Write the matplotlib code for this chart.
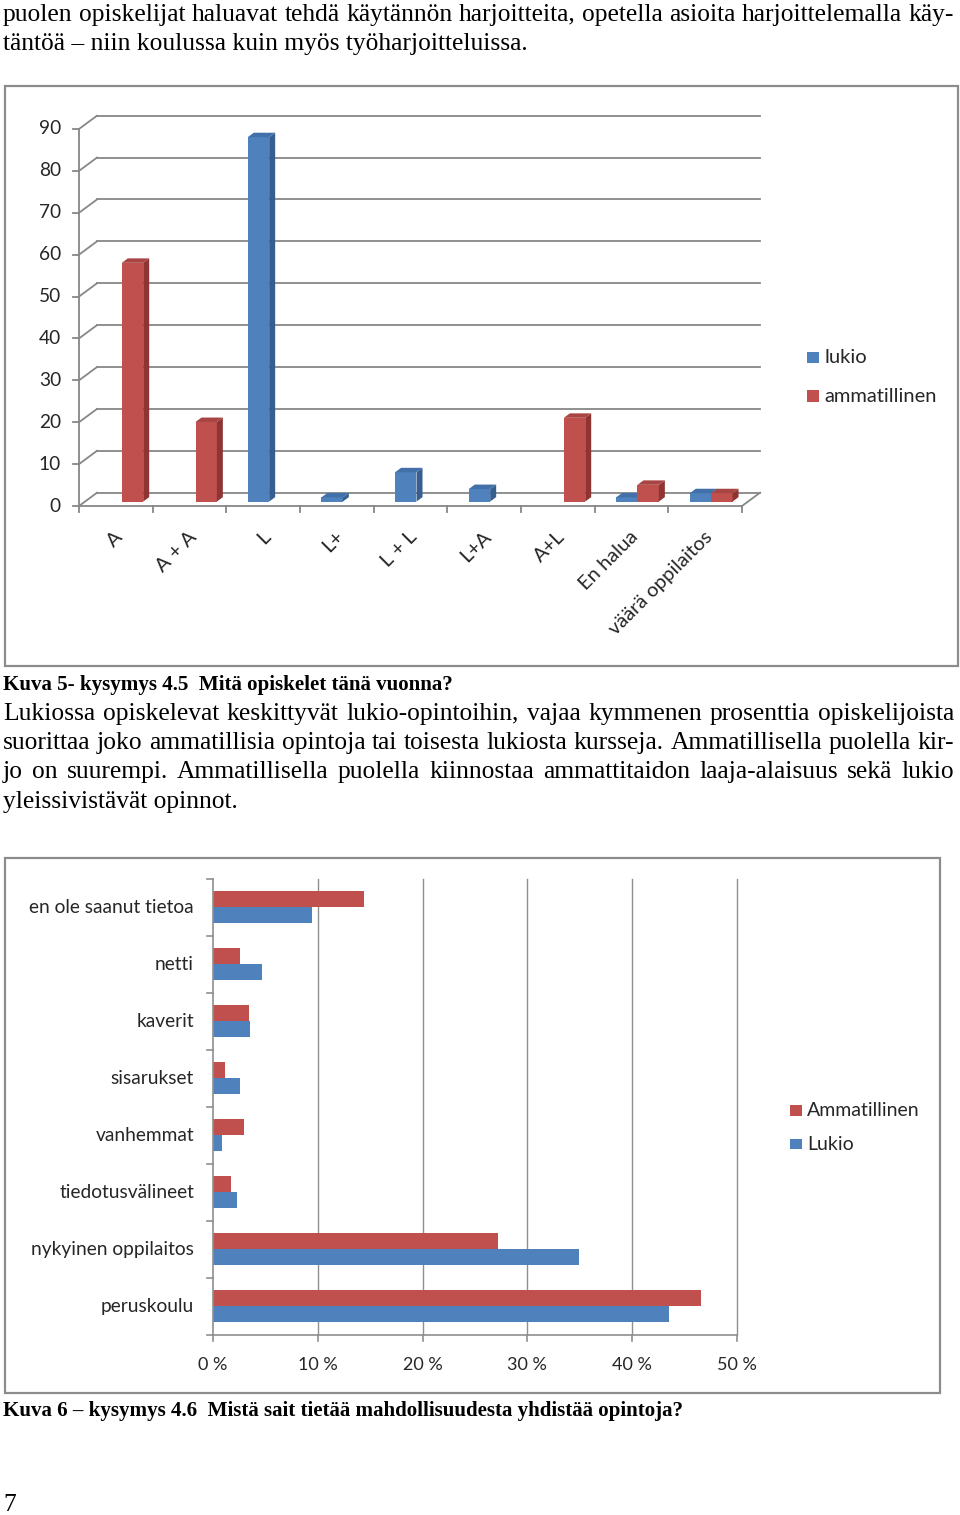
import numpy as np
import matplotlib
matplotlib.use('Agg')
import matplotlib.pyplot as plt
from matplotlib.patches import Polygon, Rectangle

W_PX, H_PX, DPI = 960, 1515, 100

# ---------------- data: chart 1 (Kuva 5) ----------------
cat1 = ['A', 'A + A', 'L', 'L+', 'L + L', 'L+A', 'A+L', 'En halua', 'väärä oppilaitos']
lukio1 = [0, 0, 87, 1, 7, 3, 0, 1, 2]
ammat1 = [57, 19, 0, 0, 0, 0, 20, 4, 2]
yticks1 = [0, 10, 20, 30, 40, 50, 60, 70, 80, 90]
legend1 = ['lukio', 'ammatillinen']

# ---------------- data: chart 2 (Kuva 6) ----------------
cat2 = ['en ole saanut tietoa', 'netti', 'kaverit', 'sisarukset', 'vanhemmat',
        'tiedotusvälineet', 'nykyinen oppilaitos', 'peruskoulu']
ammat2 = [14.4, 2.6, 3.4, 1.1, 3.0, 1.7, 27.2, 46.6]
lukio2 = [9.4, 4.7, 3.5, 2.6, 0.9, 2.3, 34.9, 43.5]
xticks2 = [0, 10, 20, 30, 40, 50]
xticklabels2 = ['0 %', '10 %', '20 %', '30 %', '40 %', '50 %']
legend2 = ['Ammatillinen', 'Lukio']

# ---------------- texts ----------------
top_lines = ["puolen opiskelijat haluavat tehdä käytännön harjoitteita, opetella asioita harjoittelemalla käy-",
             "täntöä – niin koulussa kuin myös työharjoitteluissa."]
caption1 = "Kuva 5- kysymys 4.5  Mitä opiskelet tänä vuonna?"
para_lines = ["Lukiossa opiskelevat keskittyvät lukio-opintoihin, vajaa kymmenen prosenttia opiskelijoista",
              "suorittaa joko ammatillisia opintoja tai toisesta lukiosta kursseja. Ammatillisella puolella kir-",
              "jo on suurempi. Ammatillisella puolella kiinnostaa ammattitaidon laaja-alaisuus sekä lukio",
              "yleissivistävät opinnot."]
caption2 = "Kuva 6 – kysymys 4.6  Mistä sait tietää mahdollisuudesta yhdistää opintoja?"
page_no = "7"

BLUE, BLUE_SIDE, BLUE_TOP = '#4F81BD', '#365E8E', '#4270A8'
RED, RED_SIDE, RED_TOP = '#C0504D', '#8E3533', '#A84442'
GRID = '#878787'
TXT = '#262626'
SANS = ['Lato', 'DejaVu Sans']
SERIF = ['Liberation Serif', 'DejaVu Serif']

fig = plt.figure(figsize=(W_PX / DPI, H_PX / DPI), dpi=DPI)
fig.patch.set_facecolor('white')
renderer = fig.canvas.get_renderer()


def fx(x):
    return x / W_PX


def fy(y):
    return 1 - y / H_PX


def frame(x0, y0, x1, y1):
    fig.patches.append(Rectangle((fx(x0), fy(y1)), (x1 - x0) / W_PX, (y1 - y0) / H_PX,
                                 transform=fig.transFigure, fill=False,
                                 ec='#8c8c8c', lw=1.6, zorder=0))


def text_width(s, fs, weight='normal'):
    t = fig.text(0, 0, s, fontsize=fs, family=SERIF, fontweight=weight)
    w = t.get_window_extent(renderer).width
    t.remove()
    return w


def place_line(s, x0, x1, base, fs, weight='normal', justify=True):
    if not justify:
        fig.text(fx(x0), fy(base), s, fontsize=fs, family=SERIF, fontweight=weight,
                 va='baseline', ha='left', color='black')
        return
    words = s.split(' ')
    objs = [fig.text(0, fy(base), w, fontsize=fs, family=SERIF, fontweight=weight,
                     va='baseline', ha='left', color='black') for w in words]
    widths = [o.get_window_extent(renderer).width for o in objs]
    gap = (x1 - x0 - sum(widths)) / (len(words) - 1)
    x = x0
    for o, wd in zip(objs, widths):
        o.set_x(fx(x))
        x += wd + gap


# ---------- font sizes fitted to line widths ----------
L_X0, L_X1 = 3, 954
just_lines = [top_lines[0]] + para_lines[:3]
base_fs = 20
fs_para = base_fs * min((L_X1 - L_X0) / text_width(l, base_fs) for l in just_lines)
fs_bold = base_fs * (455 - 3) / text_width(caption1, base_fs, 'bold')

# ---------- page text ----------
place_line(top_lines[0], L_X0, L_X1, 21, fs_para)
place_line(top_lines[1], L_X0, L_X1, 50, fs_para, justify=False)
place_line(caption1, 3, 455, 690, fs_bold, 'bold', justify=False)
for i, ln in enumerate(para_lines):
    place_line(ln, L_X0, L_X1, 720 + i * 29.2, fs_para, justify=(i < 3))
place_line(caption2, 3, 686, 1416, fs_bold, 'bold', justify=False)
place_line(page_no, 3, 20, 1511, fs_para, justify=False)

# ================= chart 1 =================
frame(5, 86, 958, 666)
AX1_L, AX1_R, AX1_T, AX1_B = 79, 742, 129, 506
ax1 = fig.add_axes([fx(AX1_L), fy(AX1_B), (AX1_R - AX1_L) / W_PX, (AX1_B - AX1_T) / H_PX])
n1 = len(cat1)
ax1.set_xlim(0, n1)
ax1.set_ylim(0, yticks1[-1])
ax1.axis('off')
pxx = n1 / (AX1_R - AX1_L)
pxy = yticks1[-1] / (AX1_B - AX1_T)
DX, DY = 18 * pxx, 13.3 * pxy

for v in yticks1:
    ax1.plot([DX, n1 + DX], [v + DY, v + DY], color=GRID, lw=1.3, clip_on=False, zorder=1)
    ax1.plot([0, DX], [v, v + DY], color=GRID, lw=1.3, clip_on=False, zorder=1)
    ax1.plot([-6 * pxx, 0], [v, v], color=GRID, lw=1.3, clip_on=False, zorder=1)
    ax1.text(-18 * pxx, v, str(v), ha='right', va='center', fontsize=13.8,
             family=SANS, color=TXT, clip_on=False)
ax1.plot([0, 0], [0, yticks1[-1]], color=GRID, lw=1.3, clip_on=False, zorder=1)
ax1.plot([0, n1], [0, 0], color=GRID, lw=1.3, clip_on=False, zorder=1)
ax1.plot([n1, n1 + DX], [0, DY], color=GRID, lw=1.3, clip_on=False, zorder=1)
for i in range(n1 + 1):
    ax1.plot([i, i], [0, -6 * pxy], color=GRID, lw=1.3, clip_on=False, zorder=1)

BW = 0.29
OX, OY = DX / 3, DY / 3
dx, dy = DX / 3, DY / 3
x1 = np.arange(n1)
series = [(lukio1, x1 + 0.5 + OX - BW, BLUE, BLUE_SIDE, BLUE_TOP, 0),
          (ammat1, x1 + 0.5 + OX, RED, RED_SIDE, RED_TOP, 1)]
for vals, lefts, cf, cs, ct, k in series:
    for i, (l, v) in enumerate(zip(lefts, vals)):
        if v <= 0:
            continue
        z = 3 + 2 * i + k
        ax1.bar([l], [v], width=BW, bottom=OY, align='edge', color=cf, zorder=z, lw=0)
        ax1.add_patch(Polygon([(l + BW, OY), (l + BW + dx, OY + dy), (l + BW + dx, OY + v + dy),
                               (l + BW, OY + v)], closed=True, fc=cs, ec='none', zorder=z))
        ax1.add_patch(Polygon([(l, OY + v), (l + dx, OY + v + dy), (l + BW + dx, OY + v + dy),
                               (l + BW, OY + v)], closed=True, fc=ct, ec='none', zorder=z))

for i, c in enumerate(cat1):
    ax1.text(i + 0.5 + 4 * pxx, -(534 - AX1_B) * pxy, c, rotation=45, rotation_mode='anchor',
             ha='right', va='center', fontsize=14.5, family=SANS, color=TXT, clip_on=False)

# legend chart 1
for j, (lab, col) in enumerate(zip(legend1, [BLUE, RED])):
    yc = 357.5 + j * 38.5
    fig.patches.append(Rectangle((fx(807), fy(yc + 5.5)), 11.5 / W_PX, 11.5 / H_PX,
                                 transform=fig.transFigure, fc=col, ec='none'))
    fig.text(fx(824), fy(yc), lab, ha='left', va='center', fontsize=14.5,
             family=SANS, color=TXT)

# ================= chart 2 =================
frame(5, 858, 940, 1393)
AX2_L, AX2_R, AX2_T, AX2_B = 213, 737, 878.9, 1334.5
ax2 = fig.add_axes([fx(AX2_L), fy(AX2_B), (AX2_R - AX2_L) / W_PX, (AX2_B - AX2_T) / H_PX])
n2 = len(cat2)
ax2.set_xlim(0, xticks2[-1])
ax2.set_ylim(n2, 0)
ax2.axis('off')
qx = xticks2[-1] / (AX2_R - AX2_L)
qy = n2 / (AX2_B - AX2_T)
yc2 = np.arange(n2) + 0.5
BH = 0.28
ax2.barh(yc2 - BH / 2, ammat2, height=BH, color=RED, zorder=3, lw=0)
ax2.barh(yc2 + BH / 2, lukio2, height=BH, color=BLUE, zorder=3, lw=0)

for t in xticks2[1:]:
    ax2.plot([t, t], [0, n2], color='#8f8f8f', lw=1.0, zorder=1, clip_on=False)
ax2.plot([0, 0], [0, n2], color='#8f8f8f', lw=1.2, zorder=4, clip_on=False)
ax2.plot([0, xticks2[-1]], [n2, n2], color='#8f8f8f', lw=1.2, zorder=4, clip_on=False)
for k in range(n2 + 1):
    ax2.plot([-6 * qx, 0], [k, k], color='#8f8f8f', lw=1.2, zorder=4, clip_on=False)
for t, lab in zip(xticks2, xticklabels2):
    ax2.plot([t, t], [n2, n2 + 6 * qy], color='#8f8f8f', lw=1.2, zorder=4, clip_on=False)
    ax2.text(t, n2 + 30 * qy, lab, ha='center', va='center', fontsize=13,
             family=SANS, color=TXT, clip_on=False)
for yv, c in zip(yc2, cat2):
    ax2.text(-19 * qx, yv, c, ha='right', va='center', fontsize=13.8,
             family=SANS, color=TXT, clip_on=False)

for j, (lab, col) in enumerate(zip(legend2, [RED, BLUE])):
    yc = 1110.3 + j * 33.8
    fig.patches.append(Rectangle((fx(790), fy(yc + 5.2)), 11.5 / W_PX, 10.5 / H_PX,
                                 transform=fig.transFigure, fc=col, ec='none'))
    fig.text(fx(807), fy(yc), lab, ha='left', va='center', fontsize=14,
             family=SANS, color=TXT)

fig.savefig('out.png', dpi=DPI, facecolor='white')
